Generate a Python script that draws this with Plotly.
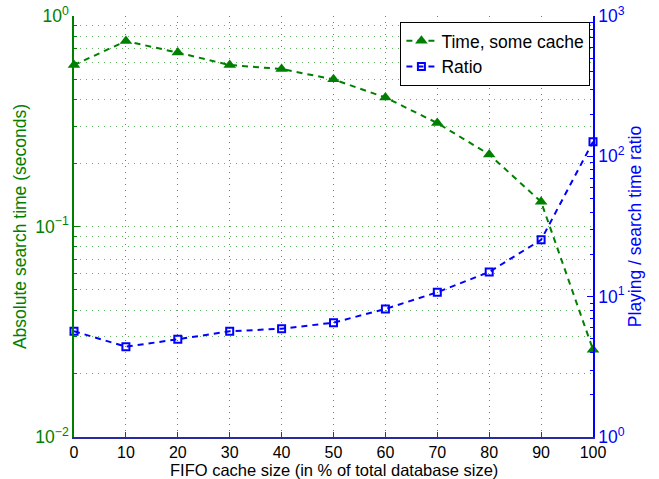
import plotly.graph_objects as go

x_vals = [0, 10, 20, 30, 40, 50, 60, 70, 80, 90, 100]
time_some_cache = [0.585, 0.76, 0.67, 0.585, 0.56, 0.50, 0.41, 0.31, 0.22, 0.131, 0.026]
ratio = [5.67, 4.40, 4.97, 5.67, 5.91, 6.53, 8.17, 10.75, 15.0, 25.4, 127]
x_ticks = [0, 10, 20, 30, 40, 50, 60, 70, 80, 90, 100]
left_decades = [0.01, 0.1, 1]
left_labels = ["10<sup>−2</sup>", "10<sup>−1</sup>", "10<sup>0</sup>"]
right_decades = [1, 10, 100, 1000]
right_labels = ["10<sup>0</sup>", "10<sup>1</sup>", "10<sup>2</sup>", "10<sup>3</sup>"]
x_title = "FIFO cache size (in % of total database size)"

GREEN = "#008000"
BLUE = "#0000ff"
FONT = "Liberation Sans, Arial, sans-serif"
FS = 17.5
GDASH = "1px,5px"
W, H = 659, 479
M = dict(l=74, r=66, t=16, b=42)

def minors(lo_exp, hi_exp):
    out = []
    for e in range(lo_exp, hi_exp):
        for m in range(2, 10):
            out.append(m * 10 ** e)
    return out

fig = go.Figure()
fig.add_trace(go.Scatter(
    x=x_vals, y=time_some_cache, name="Time, some cache",
    mode="lines+markers",
    line=dict(color=GREEN, width=2, dash="6px,5px"),
    marker=dict(symbol="triangle-up", size=11, color=GREEN),
    cliponaxis=False, yaxis="y"))
fig.add_trace(go.Scatter(
    x=x_vals, y=ratio, name="Ratio",
    mode="lines+markers",
    line=dict(color=BLUE, width=2, dash="6px,5px"),
    marker=dict(symbol="square-open", size=7, color=BLUE, line=dict(width=2, color=BLUE)),
    cliponaxis=False, yaxis="y2"))

plot_h = H - M["t"] - M["b"]

fig.update_layout(
    width=W, height=H,
    margin=dict(**M, autoexpand=False),
    paper_bgcolor="white", plot_bgcolor="white",
    font=dict(family=FONT, size=FS, color="black"),
    showlegend=True,
    legend=dict(x=0.995, y=0.986, xanchor="right", yanchor="top",
                bgcolor="white", bordercolor="black", borderwidth=1,
                font=dict(size=17.5, family=FONT), tracegroupgap=0,
                itemwidth=30),
    annotations=[dict(text=x_title, xref="paper", yref="paper", x=0.5,
                      y=-(470 - (H - M["b"])) / plot_h, xanchor="center", yanchor="middle",
                      showarrow=False, borderpad=0, font=dict(size=16.5, color="black"))],
    xaxis=dict(
        range=[0, 100], tickmode="array", tickvals=x_ticks,
        ticks="inside", ticklen=5, tickcolor="#333399",
        showline=True, linecolor="#2a2aa0", linewidth=1.5,
        showgrid=True, gridcolor="#777777", griddash=GDASH, gridwidth=1,
        zeroline=False, automargin=False,
        tickfont=dict(size=16, color="black")),
    yaxis=dict(
        type="log", range=[-2, 0], tickmode="array",
        tickvals=left_decades, ticktext=left_labels,
        ticks="inside", ticklen=6, tickcolor=GREEN,
        showline=True, linecolor=GREEN, linewidth=1.5,
        showgrid=True, gridcolor="rgba(0,128,0,0.6)", griddash=GDASH, gridwidth=1,
        minor=dict(tickmode="array", tickvals=minors(-2, 0), ticks="inside",
                   ticklen=3, tickcolor=GREEN, showgrid=True,
                   gridcolor="rgba(0,128,0,0.6)", griddash=GDASH, gridwidth=1),
        zeroline=False, automargin=False,
        tickfont=dict(size=FS, color=GREEN),
        title=dict(text="Absolute search time (seconds)", font=dict(size=FS, color=GREEN),
                   standoff=4)),
    yaxis2=dict(
        type="log", range=[0, 3], overlaying="y", side="right",
        tickmode="array", tickvals=right_decades, ticktext=right_labels,
        ticks="inside", ticklen=6, tickcolor=BLUE,
        showline=True, linecolor=BLUE, linewidth=1.5,
        showgrid=False, zeroline=False, automargin=False,
        minor=dict(tickmode="array", tickvals=minors(0, 3), ticks="inside",
                   ticklen=3, tickcolor=BLUE, showgrid=False),
        tickfont=dict(size=FS, color=BLUE),
        title=dict(text="Playing / search time ratio", font=dict(size=FS, color=BLUE),
                   standoff=4)),
)

fig.write_html("out.html")
